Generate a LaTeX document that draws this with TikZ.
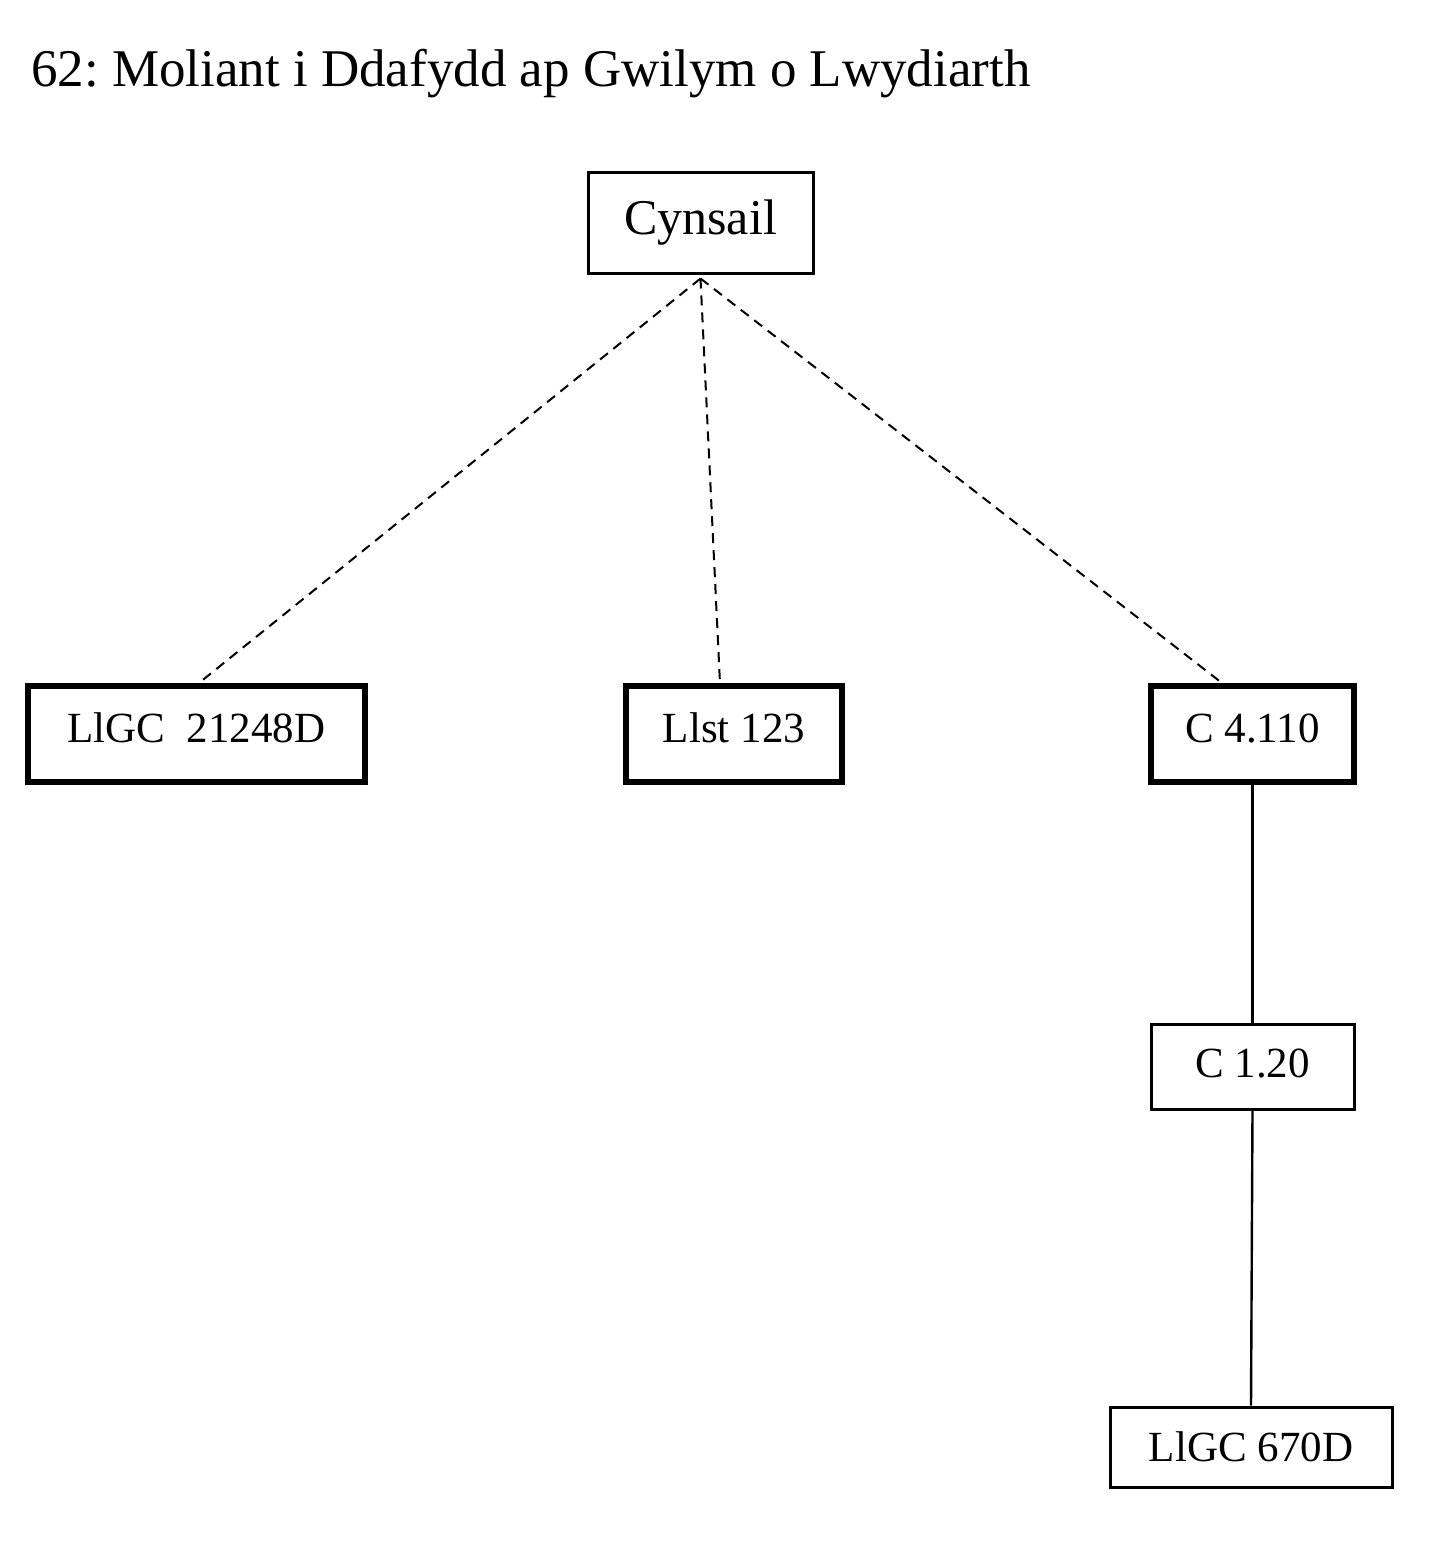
\documentclass[tikz,border=0pt]{standalone}
\usepackage{fontspec}
\setmainfont{Liberation Serif}
\frenchspacing
\usetikzlibrary{positioning}
\tikzset{x=0.5pt, y=-0.5pt, % one unit is one pixel of the page
ms/.style={ % Sets the properties for each manuscript
draw, line width=1.5pt, inner sep=0pt,
font=\fontsize{21.5}{24}\selectfont},
msbold/.style={ % Manuscripts drawn with a heavy frame
ms, line width=2.6pt, text height=14pt, text depth=6pt},
lost/.style={ % Lines to the lost exemplar
draw, line width=1pt, dash pattern=on 5pt off 3.5pt},
copied/.style={ % Lines between copies
draw, line width=1.2pt}}

\begin{document}
\begin{tikzpicture}
    \useasboundingbox (0,0) rectangle (1446,1542);

    \node[anchor=base west, font=\fontsize{26.5}{30}\selectfont] (title) at (24,86)
        {62: Moliant i Ddafydd ap Gwilym o Lwydiarth};

    \node[ms, minimum width=112.5pt, minimum height=50.5pt,
          font=\fontsize{25}{28}\selectfont] (cynsail) at (700.5,222.5) {Cynsail};

    \node[msbold, minimum width=168.5pt, minimum height=48pt] (llgc21248) at (196.5,734) {LlGC\ \ 21248D};
    \node[msbold, minimum width=108pt, minimum height=48pt] (llst123) at (734,734) {Llst 123};
    \node[msbold, minimum width=101.5pt, minimum height=48pt] (c4110) at (1252.5,734) {C 4.110};
    \node[ms, minimum width=101.5pt, minimum height=42.5pt,
          text height=14pt, text depth=3pt] (c120) at (1252.5,1066.5) {C 1.20};
    \node[ms, minimum width=141pt, minimum height=40pt] (llgc670) at (1251,1447) {LlGC 670D};

    \draw[lost] ([yshift=-2pt]cynsail.south) -- ([xshift=1pt]llgc21248.north);
    \draw[lost] ([yshift=-2pt]cynsail.south) -- ([xshift=-7pt]llst123.north);
    \draw[lost] ([yshift=-2pt]cynsail.south) -- ([xshift=-15pt]c4110.north);

    \draw[copied] (c4110) -- (c120);
    \draw[copied] (c120.south) -- (llgc670.north);

\end{tikzpicture}
\end{document}
